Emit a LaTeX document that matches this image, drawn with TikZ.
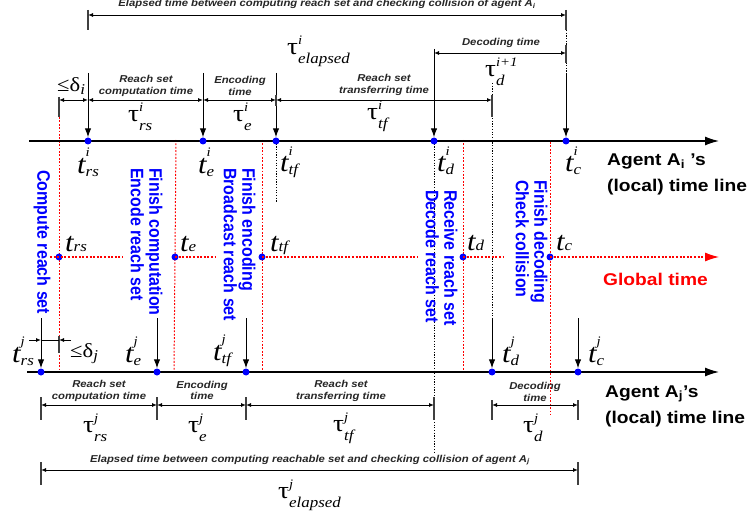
\documentclass[tikz,border=0pt]{standalone}
\usepackage{fontspec}
\setmainfont{Liberation Sans}
\newfontfamily\mser{Liberation Serif}
\usetikzlibrary{arrows.meta}
\newcommand\HS[1]{\scalebox{1.13}[1]{#1}}
\newcommand\VS[1]{\scalebox{1}[1.13]{#1}}
\newcommand\bigt{{\fontsize{27}{27}\selectfont\mser\itshape t}}
\newcommand\bigtau{{\fontsize{24}{24}\selectfont\mser τ}}
\newcommand\supf[1]{{\fontsize{13}{13}\selectfont\mser\itshape #1}}
\newcommand\subf[1]{{\fontsize{15}{15}\selectfont\mser\itshape #1}}
\newcommand\SUPSUB[5]{\HS{#1\ooalign{\raisebox{#3}{\supf{#2}}\hfil\cr\raisebox{#5}{\subf{#4}}\hfil\cr}}}
\newcommand\tlab[2]{\SUPSUB{\bigt}{#1}{17pt}{#2}{-3pt}}
\newcommand\taulab[2]{\SUPSUB{\bigtau}{#1}{10pt}{#2}{-9pt}}
\newcommand\glab[1]{\HS{\bigt\subf{#1}}}
\newcommand\dlab[1]{\HS{{\fontsize{20}{20}\selectfont\mser ≤δ}\raisebox{-3pt}{\subf{#1}}}}
\newcommand\TWO[2]{\HS{\begin{tabular}[t]{@{}c@{}}#1\\#2\end{tabular}}}
\newcommand\VTWO[2]{\VS{\begin{tabular}{@{}l@{}}#1\\#2\end{tabular}}}
\begin{document}
\begin{tikzpicture}[x=1pt,y=-1pt,
  dot/.style={circle,fill=blue,inner sep=0pt,minimum size=7pt},
  tline/.style={line width=1.4pt,-{Latex[length=14pt,width=9pt]}},
  gline/.style={red,line width=1.1pt,dash pattern=on 2pt off 1.6pt},
  rvl/.style={red,line width=1pt,dash pattern=on 1.8pt off 1.6pt},
  bvl/.style={black,line width=0.9pt,dash pattern=on 1.2pt off 1.5pt},
  dn/.style={line width=1pt,-{Latex[length=9pt,width=6.5pt]}},
  dim/.style={line width=0.9pt,{Latex[length=5pt,width=4pt]}-{Latex[length=5pt,width=4pt]}},
  tick/.style={line width=1.1pt,black!75},
  small/.style={font=\fontsize{10}{12}\selectfont\bfseries\itshape,inner sep=0pt,anchor=base,text=black!85},
  vtext/.style={rotate=-90,anchor=west,inner sep=0pt,text=blue,font=\fontsize{16}{16}\selectfont\bfseries},
  lab/.style={anchor=base west,inner sep=0pt},
  agent/.style={anchor=base west,inner sep=0pt,font=\fontsize{17}{26}\selectfont\bfseries}]
\useasboundingbox (0,0) rectangle (748,516);

% ---------- red dotted verticals (global instants)
\draw[rvl] (59,117) -- (59,372);
\draw[rvl] (176,140) -- (174,372);
\draw[rvl] (262,140) -- (262,372);
\draw[rvl] (463,140) -- (463,372);
\draw[rvl] (550,142) -- (550,415);

% ---------- black dotted verticals
\draw[bvl] (276,141) -- (276,203);
\draw[bvl] (434,141) -- (434,452);
\draw[bvl] (492,83) -- (492,318);
\draw[bvl] (566,30) -- (566,73);

% ---------- time lines
\coordinate (TL0) at (29,141); \coordinate (TL1) at (719,141);
\coordinate (BL0) at (27,372); \coordinate (BL1) at (719,372);
\coordinate (GL0) at (50,257); \coordinate (GL1) at (719,257);
\draw[tline] (TL0) -- (TL1);
\draw[tline] (BL0) -- (BL1);

% ---------- dots
\node[dot] (ri_rs) at (88,141) {};
\node[dot] (ri_e) at (203,141) {};
\node[dot] (ri_tf) at (276,141) {};
\node[dot] (ri_d) at (434,141) {};
\node[dot] (ri_c) at (566,141) {};
\node[dot] (g_rs) at (59,257) {};
\node[dot] (g_e) at (175,257) {};
\node[dot] (g_tf) at (262,257) {};
\node[dot] (g_d) at (463,257) {};
\node[dot] (g_c) at (550,257) {};
\node[dot] (rj_rs) at (41,372) {};
\node[dot] (rj_e) at (157,372) {};
\node[dot] (rj_tf) at (246,372) {};
\node[dot] (rj_d) at (492,372) {};
\node[dot] (rj_c) at (578,372) {};

% ---------- global time line
\draw[gline] (GL0) -- (123,257);
\draw[gline] (g_e.center) -- (215,257);
\draw[gline] (g_tf.center) -- (417,257);
\draw[gline] (g_d.center) -- (503,257);
\draw[gline,-{Latex[length=14pt,width=9pt]}] (g_c.center) -- (GL1);

% ---------- down arrows (top)
\coordinate (ai_rs) at (88,73);
\coordinate (ai_e) at (203,73);
\coordinate (ai_tf) at (276,73);
\coordinate (ai_d) at (434,49);
\coordinate (ai_c) at (566,73);
\draw[dn] (ai_rs) -- (ri_rs);
\draw[dn] (ai_e) -- (ri_e);
\draw[dn] (ai_tf) -- (ri_tf);
\draw[dn] (ai_d) -- (ri_d);
\draw[dn] (ai_c) -- (ri_c);
% ---------- down arrows (bottom)
\coordinate (aj_rs) at (41,318);
\coordinate (aj_e) at (157,318);
\coordinate (aj_tf) at (246,318);
\coordinate (aj_d) at (492,318);
\coordinate (aj_c) at (578,318);
\draw[dn] (aj_rs) -- (rj_rs);
\draw[dn] (aj_e) -- (rj_e);
\draw[dn] (aj_tf) -- (rj_tf);
\draw[dn] (aj_d) -- (rj_d);
\draw[dn] (aj_c) -- (rj_c);

% ---------- ticks
\draw[tick] (88,10) -- (88,30);
\draw[tick] (566,10) -- (566,30);
\draw[tick] (59,97) -- (59,117);
\draw[tick] (492,95) -- (492,117);
\draw[tick] (566,45) -- (566,63);
\draw[tick] (276,95) -- (276,106);
\foreach \x in {41,157,246,434} \draw[tick] (\x,397) -- (\x,420);
\foreach \x in {492,578} \draw[tick] (\x,400) -- (\x,420);
\draw[tick] (41,462) -- (41,485);
\draw[tick] (578,462) -- (578,485);
\draw[tick] (59,336) -- (59,353);

% ---------- dimension arrows (top)
\draw[dim] (88,15) -- (566,15);
\draw[dim] (59,100) -- (88,100);
\draw[dim] (88,100) -- (203,100);
\draw[dim] (203,100) -- (276,100);
\draw[dim] (276,100) -- (492,100);
\draw[dim] (434,53) -- (566,53);
% ---------- dimension arrows (bottom)
\draw[dim] (41,405) -- (157,405);
\draw[dim] (157,405) -- (246,405);
\draw[dim] (246,405) -- (434,405);
\draw[dim] (492,405) -- (578,405);
\draw[dim] (41,470) -- (578,470);
\draw[line width=0.9pt,-{Latex[length=5pt,width=4pt]}] (29,340) -- (41,340);
\draw[line width=0.9pt] (41,340) -- (59,340);
\draw[line width=0.9pt,-{Latex[length=5pt,width=4pt]}] (71,340) -- (59,340);

% ---------- small italic labels
\node[small] (el_i) at (327,7) {\HS{Elapsed time between computing reach set and checking collision of agent A\textsubscript{i}}};
\node[small] (rsc_i) at (146,83) {\TWO{Reach set}{computation time}};
\node[small] (enc_i) at (240,84) {\TWO{Encoding}{time}};
\node[small] (tf_i) at (384,82) {\TWO{Reach set}{transferring time}};
\node[small] (dec_i) at (501,46) {\HS{Decoding time}};
\node[small] (rsc_j) at (99,387) {\TWO{Reach set}{computation time}};
\node[small] (enc_j) at (202,388) {\TWO{Encoding}{time}};
\node[small] (tf_j) at (341,387) {\TWO{Reach set}{transferring time}};
\node[small] (dec_j) at (535,389) {\TWO{Decoding}{time}};
\node[small] (el_j) at (310,462) {\HS{Elapsed time between computing reachable set and checking collision of agent A\textsubscript{j}}};

% ---------- tau labels
\node[lab] at (287,55) {\taulab{i}{elapsed}};
\node[lab] at (485,77) {\taulab{i+1}{d}};
\node[lab] at (128,122) {\taulab{i}{rs}};
\node[lab] at (233,122) {\taulab{i}{e}};
\node[lab] at (367,120) {\taulab{i}{tf}};
\node[lab] at (83,432) {\taulab{j}{rs}};
\node[lab] at (188,432) {\taulab{j}{e}};
\node[lab] at (333,431) {\taulab{j}{tf}};
\node[lab] at (523,432) {\taulab{j}{d}};
\node[lab] at (278,498) {\taulab{j}{elapsed}};
\node[lab] at (57,92) {\dlab{i}};
\node[lab] at (70,357) {\dlab{j}};

% ---------- t labels
\node[lab] at (77,174) {\tlab{i}{rs}};
\node[lab] at (198,174) {\tlab{i}{e}};
\node[lab] at (280,172) {\tlab{i}{tf}};
\node[lab] at (437,172) {\tlab{i}{d}};
\node[lab] at (565,172) {\tlab{i}{c}};
\node[lab] at (65,252) {\glab{rs}};
\node[lab] at (180,252) {\glab{e}};
\node[lab] at (270,252) {\glab{tf}};
\node[lab] at (467,251) {\glab{d}};
\node[lab] at (556,251) {\glab{c}};
\node[lab] at (12,362) {\tlab{j}{rs}};
\node[lab] at (125,362) {\tlab{j}{e}};
\node[lab] at (213,360) {\tlab{j}{tf}};
\node[lab] at (502,362) {\tlab{j}{d}};
\node[lab] at (588,362) {\tlab{j}{c}};

% ---------- blue vertical event texts
\node[vtext] (ev1) at (42,170) {\VS{Compute reach set}};
\node[vtext] (ev2) at (144,168) {\VTWO{Finish computation}{Encode reach set}};
\node[vtext] (ev3) at (237,168) {\VTWO{Finish encoding}{Broadcast reach set}};
\node[vtext] (ev4) at (439,190) {\VTWO{Receive reach set}{Decode reach set}};
\node[vtext] (ev5) at (529,180) {\VTWO{Finish decoding}{Check collision}};

% ---------- agent / global labels
\node[agent] (agi) at (607,166) {\HS{\begin{tabular}[t]{@{}l@{}}Agent A\textsubscript{i} ’s\\(local) time line\end{tabular}}};
\node[agent] (agj) at (605,397) {\HS{\begin{tabular}[t]{@{}l@{}}Agent A\textsubscript{j}’s\\(local) time line\end{tabular}}};
\node[anchor=base west,inner sep=0pt,text=red,font=\fontsize{17}{20}\selectfont\bfseries] (glob) at (603,285) {\HS{Global time}};
\end{tikzpicture}
\end{document}
